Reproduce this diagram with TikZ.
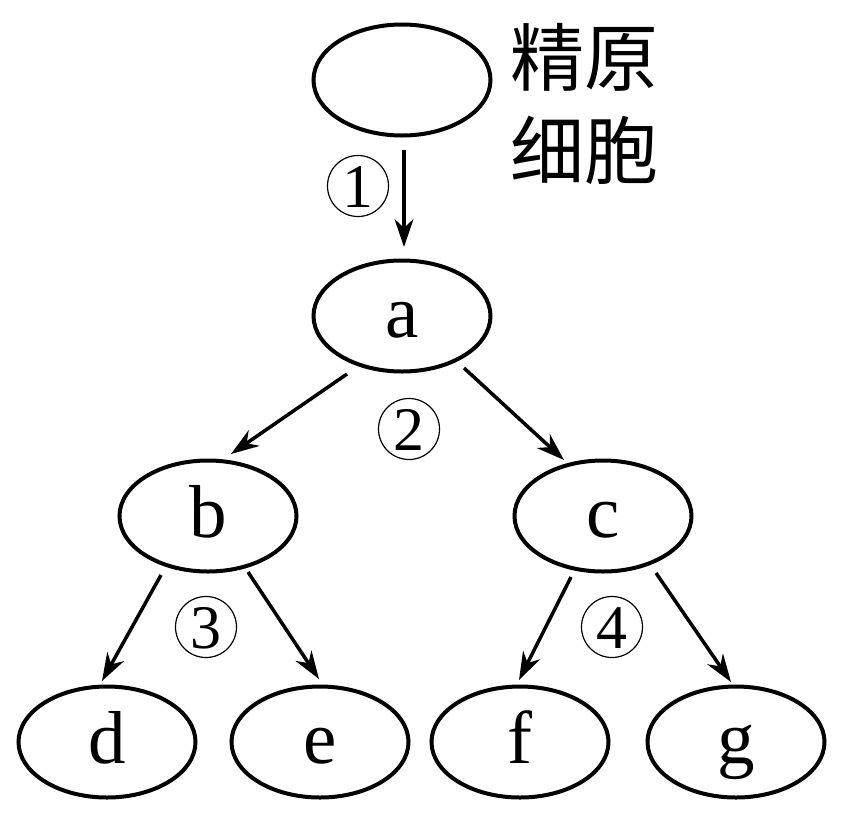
\documentclass[tikz,border=0pt]{standalone}
\usepackage{fontspec}
\setmainfont{Liberation Serif}
\newfontfamily\cjk{Noto Sans CJK SC}
\usetikzlibrary{shapes.geometric,arrows.meta,calc}
\tikzset{
  cell/.style={ellipse,draw,line width=4pt,minimum width=177pt,minimum height=111pt,inner sep=0pt,
    font=\fontsize{75}{75}\selectfont,text height=50pt,text depth=8pt},
  num/.style={circle,draw,line width=1.2pt,minimum size=61pt,inner sep=0pt,
    font=\fontsize{62}{62}\selectfont,text height=43pt,text depth=0pt},
  arr/.style={line width=3.5pt,-{Stealth[length=28pt,width=19pt,inset=9pt]}}
}
\begin{document}
\begin{tikzpicture}[x=1pt,y=-1pt]
\useasboundingbox (0,0) rectangle (841,815);
\node[cell] (top) at (402,80) {};
\node[cell] (a) at (402,316) {a};
\node[cell] (b) at (208,516) {b};
\node[cell] (c) at (603,516) {c};
\node[cell] (d) at (107,742) {d};
\node[cell] (e) at (320,742) {e};
\node[cell] (f) at (520,742) {f};
\node[cell] (g) at (736,742) {g};
\node[font=\cjk\fontsize{74}{93}\selectfont,align=left,inner sep=0pt] (name) at (584,104) {精原\\细胞};
\node[num] (n1) at (358,186) {1};
\node[num] (n2) at (409,429) {2};
\node[num] (n3) at (206,627) {3};
\node[num] (n4) at (612,627) {4};
\draw[arr] ($(top.center)+(2,70)$) -- ($(a.center)+(2,-69)$);
\draw[arr] ($(a.center)+(-55,58)$) -- ($(b.center)+(23,-62)$);
\draw[arr] ($(a.center)+(62,52)$) -- ($(c.center)+(-39,-56)$);
\draw[arr] ($(b.center)+(-47,59)$) -- ($(d.center)+(-5,-61)$);
\draw[arr] ($(b.center)+(40,56)$) -- ($(e.center)+(-1,-63)$);
\draw[arr] ($(c.center)+(-32,61)$) -- ($(f.center)+(-1,-62)$);
\draw[arr] ($(c.center)+(53,57)$) -- ($(g.center)+(-5,-60)$);
\end{tikzpicture}
\end{document}
